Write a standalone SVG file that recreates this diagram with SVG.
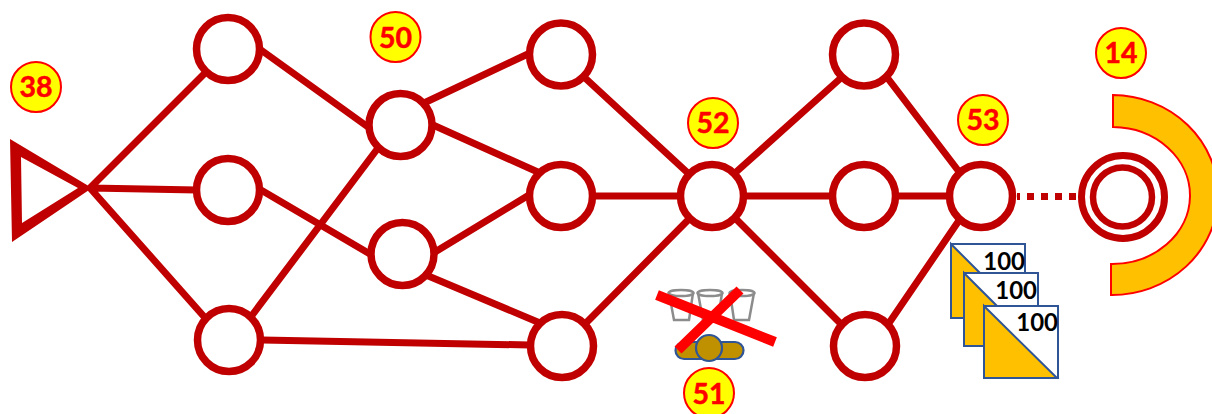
<svg xmlns="http://www.w3.org/2000/svg" width="1212" height="414" viewBox="0 0 1212 414">
<style>
.c{stroke:#C00000;stroke-width:7;fill:none}
.n{stroke:#C00000;stroke-width:7.500;fill:#fff}
.b{fill:#FF0;stroke:#F00;stroke-width:2}
.bt{font:bold 28.500px Lato,"Liberation Sans",sans-serif;fill:#F00;stroke:#F00;stroke-width:.5;text-anchor:middle}
.f{fill:#fff;stroke:#2F5597;stroke-width:2}
.y{fill:#FFC000;stroke:#2F5597;stroke-width:2}
.ft{font:bold 24px Lato,"Liberation Sans",sans-serif;fill:#000;text-anchor:end}
.cup{fill:#fff;stroke:#8C8C8C;stroke-width:2.500}
.x{stroke:#F00;stroke-width:10;fill:none}
.v{fill:#BF9000;stroke:#2F5597;stroke-width:2.200}
</style>
<g id="connectors">
<path class="c" d="M90 188L207 71M90 188L197 190M90 188L207 320M261 50L368 127M261 190L370 254M250 318L378 148M262 340L530 345M435 252L529 195M426 275L540 323M424 103L530 53M433 125L540 173M584 77L690 175M590 196H682M586 323L690 218M735 173L842 77M742 196H834M735 218L843 326M886 76L960 173M894 196H950M887 326L960 219"/>
<path d="M1017 196.500H1078" stroke="#C00000" stroke-width="7" stroke-dasharray="3 7 7 7 7 7 7 7 7 7" fill="none"/>
</g>
<g id="source"><path d="M10 139L92 188L12 242ZM21 157L22 223L78 188Z" fill="#C00000" fill-rule="evenodd"/></g>
<g id="n1"><circle class="n" cx="228" cy="49" r="31.500"/></g>
<g id="n2"><circle class="n" cx="228" cy="190" r="31.500"/></g>
<g id="n3"><circle class="n" cx="229" cy="340" r="31.500"/></g>
<g id="n4"><circle class="n" cx="400.500" cy="125" r="31.500"/></g>
<g id="n5"><circle class="n" cx="402.500" cy="254" r="31.500"/></g>
<g id="n6"><circle class="n" cx="561" cy="54.500" r="31.500"/></g>
<g id="n7"><circle class="n" cx="561" cy="196" r="31.500"/></g>
<g id="n8"><circle class="n" cx="562" cy="346" r="31.500"/></g>
<g id="n9"><circle class="n" cx="712" cy="196" r="31.500"/></g>
<g id="n10"><circle class="n" cx="864" cy="54.500" r="31.500"/></g>
<g id="n11"><circle class="n" cx="864" cy="196" r="31.500"/></g>
<g id="n12"><circle class="n" cx="865" cy="346" r="31.500"/></g>
<g id="n13"><circle class="n" cx="981" cy="196" r="31.500"/></g>
<g id="target">
<path d="M1113 95A106 100 0 0 1 1111 295V264A78 68.500 0 0 0 1113 127Z" fill="#FFC000" stroke="#F00" stroke-width="2"/>
<circle cx="1123" cy="197" r="41.500" fill="#fff" stroke="#C00000" stroke-width="7"/>
<circle cx="1122.500" cy="197" r="29.500" fill="#fff" stroke="#C00000" stroke-width="6.500"/>
</g>
<g id="b38"><circle class="b" cx="36" cy="87" r="25"/><text class="bt" x="36" y="97">38</text></g>
<g id="b50"><circle class="b" cx="395.500" cy="37" r="25"/><text class="bt" x="395.500" y="47.500">50</text></g>
<g id="b52"><circle class="b" cx="713" cy="123" r="25"/><text class="bt" x="713" y="133">52</text></g>
<g id="b53"><circle class="b" cx="983" cy="120" r="25"/><text class="bt" x="983" y="130">53</text></g>
<g id="b14"><circle class="b" cx="1121" cy="53" r="25"/><text class="bt" x="1121" y="63">14</text></g>
<g id="b51"><circle class="b" cx="709" cy="393" r="25"/><text class="bt" x="709" y="404">51</text></g>
<g id="flags">
<rect class="f" x="951" y="244" width="74" height="74"/><path class="y" d="M951 244L1025 318H951Z"/><text class="ft" x="1025" y="270">100</text>
<rect class="f" x="964" y="273" width="74" height="73"/><path class="y" d="M964 273L1037 346H964Z"/><text class="ft" x="1037" y="299">100</text>
<rect class="f" x="984" y="306" width="74" height="72"/><path class="y" d="M984 306L1057 378H984Z"/><text class="ft" x="1058" y="331">100</text>
</g>
<g id="valve">
<path class="cup" d="M669 293L674 320H689L693 293"/><ellipse class="cup" cx="681" cy="293" rx="12.500" ry="3"/>
<path class="cup" d="M698 293L703 320H718L722 293"/><ellipse class="cup" cx="710" cy="293" rx="12.500" ry="3"/>
<path class="cup" d="M730 293L734 320H749L754 293"/><ellipse class="cup" cx="742" cy="293" rx="12.500" ry="3"/>
<rect class="v" x="675.500" y="342" width="68" height="17" rx="8.500"/>
<circle class="v" cx="709" cy="348" r="13"/>
<path class="x" d="M657 295L775 342M740 290L678 350"/>
</g>
</svg>
